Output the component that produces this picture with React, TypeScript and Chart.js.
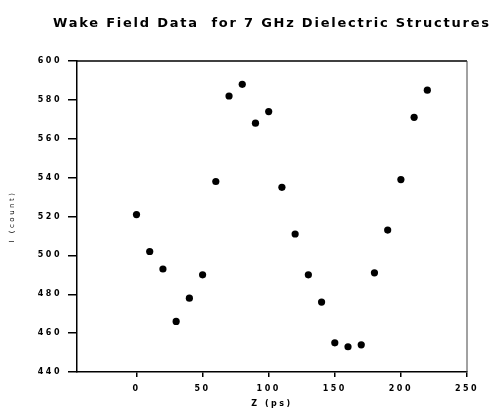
import React, { useEffect, useRef } from 'react';
import { Chart, registerables } from 'chart.js';

Chart.register(...registerables);

const zValues = [0, 10, 20, 30, 40, 50, 60, 70, 80, 90, 100, 110, 120, 130, 140, 150, 160, 170, 180, 190, 200, 210, 220];
const counts = [521, 502, 493, 466, 478, 490, 538, 582, 588, 568, 574, 535, 511, 490, 476, 455, 453, 454, 491, 513, 539, 571, 585];
const xTickValues = [0, 50, 100, 150, 200, 250];
const yMin = 440;
const yMax = 600;
const yStep = 20;
const xMin = -45;
const xMax = 250;
const titleText = 'Wake Field Data  for 7 GHz Dielectric Structures';
const xTitle = 'Z (ps)';
const yTitle = 'I (count)';

const FONT = '"DejaVu Sans", "Liberation Sans", Arial, sans-serif';

const spacingPlugin = {
  id: 'spacing',
  beforeDraw(chart: any) {
    (chart.ctx as any).letterSpacing = '2.5px';
  },
  afterDraw(chart: any) {
    const ctx = chart.ctx as any;
    ctx.letterSpacing = '0px';
    const { left, right, top, bottom } = chart.chartArea;
    ctx.save();
    ctx.strokeStyle = '#000';
    ctx.lineWidth = 1.5;
    ctx.beginPath();
    ctx.moveTo(left, top);
    ctx.lineTo(right, top);
    ctx.stroke();
    ctx.strokeStyle = '#444';
    ctx.lineWidth = 1;
    ctx.beginPath();
    ctx.moveTo(right, top);
    ctx.lineTo(right, bottom);
    ctx.stroke();
    // title
    ctx.font = `bold 13px ${FONT}`;
    ctx.fillStyle = '#000';
    ctx.textAlign = 'left';
    ctx.textBaseline = 'alphabetic';
    ctx.letterSpacing = '0px';
    const w = ctx.measureText(titleText).width;
    const target = 436;
    const sp = (target - w) / (titleText.length - 1);
    ctx.letterSpacing = `${sp}px`;
    ctx.fillText(titleText, 53, 27);
    ctx.letterSpacing = '0px';
    ctx.restore();
  },
};

export default function App() {
  const ref = useRef<HTMLCanvasElement>(null);
  useEffect(() => {
    if (!ref.current) return;
    const chart = new Chart(ref.current, {
      type: 'scatter',
      data: {
        datasets: [
          {
            data: zValues.map((z, i) => ({ x: z, y: counts[i] })),
            backgroundColor: '#000',
            borderColor: '#000',
            pointRadius: 3.6,
            pointBorderWidth: 0,
            showLine: false,
          },
        ],
      },
      options: {
        animation: false,
        responsive: true,
        maintainAspectRatio: false,
        layout: { padding: { top: 61, right: 25, left: 0, bottom: 0 } },
        plugins: {
          legend: { display: false },
          title: { display: false },
          tooltip: { enabled: false },
        },
        scales: {
          x: {
            type: 'linear',
            min: xMin,
            max: xMax,
            afterBuildTicks: (scale: any) => {
              scale.ticks = xTickValues.map((v) => ({ value: v }));
            },
            afterFit: (scale: any) => {
              scale.height = 44;
            },
            grid: { drawOnChartArea: false, drawTicks: true, tickLength: 5, color: '#000', lineWidth: 1.5 },
            border: { display: true, color: '#000', width: 1.5 },
            ticks: {
              color: '#000',
              font: { family: FONT, size: 8, weight: 'bold' },
              padding: 7,
              maxRotation: 0,
            },
            title: {
              display: true,
              text: xTitle,
              color: '#000',
              font: { family: FONT, size: 8, weight: 'bold' },
              padding: { top: 0, bottom: 7 },
            },
          },
          y: {
            type: 'linear',
            min: yMin,
            max: yMax,
            ticks: {
              stepSize: yStep,
              color: '#000',
              font: { family: FONT, size: 8, weight: 'bold' },
              padding: 6,
            },
            afterFit: (scale: any) => {
              scale.width = 77;
            },
            grid: { drawOnChartArea: false, drawTicks: true, tickLength: 9, color: '#000', lineWidth: 1.5 },
            border: { display: true, color: '#000', width: 1.5 },
            title: {
              display: true,
              text: yTitle,
              color: '#000',
              font: { family: FONT, size: 7 },
              padding: { top: 8, bottom: 0 },
            },
          },
        },
      },
      plugins: [spacingPlugin],
    });
    return () => chart.destroy();
  }, []);
  return (
    <div style={{ position: 'absolute', left: 0, top: 0, width: 492, height: 416, background: '#fff' }}>
      <canvas ref={ref} />
    </div>
  );
}
